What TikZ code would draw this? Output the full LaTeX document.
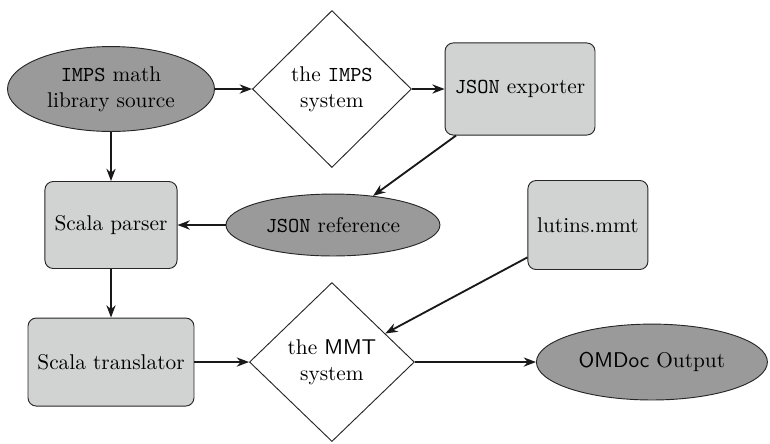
\documentclass[tikz,border=0pt]{standalone}
\usepackage{tikz}
\usetikzlibrary{shapes.geometric, arrows.meta}
\definecolor{boxgray}{RGB}{209,211,211}
\definecolor{ovalgray}{RGB}{154,154,154}
\tikzset{
  source/.style={
    ellipse,
    draw=black!85,
    fill=ovalgray,
    inner sep=0pt,
    align=center
  },
  process/.style={
    rectangle,
    rounded corners=4pt,
    draw=black!85,
    fill=boxgray,
    inner sep=0pt,
    align=center
  },
  system/.style={
    diamond,
    draw=black!85,
    fill=white,
    inner sep=0pt,
    align=center
  },
  flow/.style={
    -{Stealth[length=6pt,width=4.5pt]},
    line width=0.9pt,
    black!90
  }
}

\begin{document}
\begin{tikzpicture}[x=0.4875pt, y=-0.4875pt, font=\fontsize{10.4}{12.6}\selectfont, line width=0.45pt]
        \useasboundingbox (0,0) rectangle (770,443);

        % Define the nodes
        \node[source, minimum width=100.9pt, minimum height=41.4pt] (src) at (111,89) {\texttt{IMPS} math\\library source};
        \node[system, minimum width=77.5pt, minimum height=76.5pt] (imps) [right of=src, node distance=107.7pt] {the \texttt{IMPS}\\system};
        \node[process, minimum width=73.1pt, minimum height=44.9pt] (jexp) [right of=imps, node distance=91.7pt] {\texttt{JSON} exporter};

        \node[process, minimum width=64.4pt, minimum height=42.4pt] (parser) [below of=src, node distance=66.3pt] {Scala parser};
        \node[source, minimum width=104.3pt, minimum height=30.2pt] (jref) [right of=parser, node distance=108.2pt] {\texttt{JSON} reference};
        \node[process, minimum width=58.5pt, minimum height=43.4pt] (lutins) [right of=jref, node distance=124.3pt] {lutins.mmt};

        \node[process, minimum width=80.9pt, minimum height=42.9pt] (trans) [below of=parser, node distance=66.8pt] {Scala translator};
        \node[system, minimum width=80.4pt, minimum height=77.5pt] (mmt) [right of=trans, node distance=107.7pt] {the \textsf{MMT}\\system};
        \node[source, minimum width=112.6pt, minimum height=37pt] (omdoc) [right of=mmt, node distance=156pt] {\textsf{OMDoc} Output};

        % Arrows between the stages
        \draw[flow] (src) -- (imps);
        \draw[flow] (imps) -- (jexp);
        \draw[flow] (jexp) -- (jref);
        \draw[flow] (src) -- (parser);
        \draw[flow] (jref) -- (parser);
        \draw[flow] (parser) -- (trans);
        \draw[flow] (trans) -- (mmt);
        \draw[flow] (lutins) -- (mmt);
        \draw[flow] (mmt) -- (omdoc);
    \end{tikzpicture}
\end{document}
